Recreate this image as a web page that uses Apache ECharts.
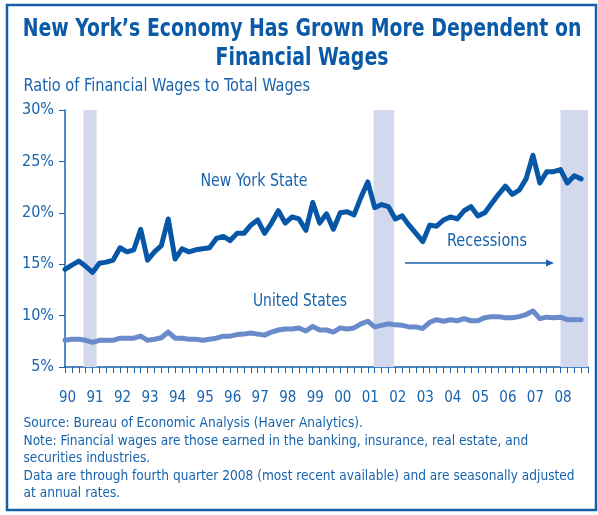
<!DOCTYPE html>
<html>
<head>
<meta charset="utf-8">
<script src="https://cdn.jsdelivr.net/npm/echarts@6/dist/echarts.min.js"></script>
<style>
html, body { margin: 0; padding: 0; background: #fff; }
#chart { width: 598px; height: 515px; }
</style>
</head>
<body>
<div id="chart"></div>
<script>
// quarterly, 1990Q1 .. 2008Q4
var firstYear = 1990;
var nyState = [
    14.5, 14.9, 15.3, 14.8, 14.2, 15.1, 15.2, 15.4,
    16.6, 16.2, 16.4, 18.4, 15.4, 16.2, 16.8, 19.4,
    15.5, 16.5, 16.2, 16.4, 16.5, 16.6, 17.5, 17.7,
    17.3, 18.0, 18.0, 18.8, 19.3, 18.0, 19.0, 20.2,
    19.0, 19.6, 19.4, 18.3, 21.0, 19.0, 19.9, 18.4,
    20.0, 20.1, 19.8, 21.5, 23.0, 20.5, 20.8, 20.6,
    19.4, 19.7, 18.8, 18.0, 17.2, 18.8, 18.7, 19.3,
    19.6, 19.4, 20.2, 20.6, 19.7, 20.0, 20.9, 21.8,
    22.6, 21.8, 22.2, 23.3, 25.6, 22.9, 24.0, 24.0,
    24.2, 22.9, 23.6, 23.3
];
var unitedStates = [
    7.6, 7.7, 7.7, 7.6, 7.4, 7.6, 7.6, 7.6,
    7.8, 7.8, 7.8, 8.0, 7.6, 7.7, 7.85, 8.4,
    7.8, 7.8, 7.7, 7.7, 7.6, 7.7, 7.8, 8.0,
    8.0, 8.15, 8.2, 8.3, 8.2, 8.1, 8.4, 8.6,
    8.7, 8.7, 8.8, 8.5, 8.95, 8.6, 8.6, 8.4,
    8.8, 8.7, 8.8, 9.2, 9.45, 8.9, 9.05, 9.2,
    9.1, 9.05, 8.9, 8.9, 8.75, 9.35, 9.6, 9.45,
    9.6, 9.5, 9.7, 9.5, 9.5, 9.8, 9.9, 9.9,
    9.8, 9.8, 9.9, 10.1, 10.45, 9.7, 9.85, 9.8,
    9.85, 9.6, 9.6, 9.6
];
var recessions = [[1990.67, 1991.15], [2001.21, 2001.96], [2008.0, 2009.0]];
var yAxisMin = 5, yAxisMax = 30, yStep = 5;
var xAxisMin = 1990, xAxisMax = 2009;

var titleLines = ['New York\u2019s Economy Has Grown More Dependent on', 'Financial Wages'];
var subTitle = 'Ratio of Financial Wages to Total Wages';
var footLines = [
    'Source: Bureau of Economic Analysis (Haver Analytics).',
    'Note: Financial wages are those earned in the banking, insurance, real estate, and',
    'securities industries.',
    'Data are through fourth quarter 2008 (most recent available) and are seasonally adjusted',
    'at annual rates.'
];

var narrow = "'Liberation Sans Narrow', 'DejaVu Sans Condensed', sans-serif";
var blue = '#1763ad';

function toPoints(arr) {
    return arr.map(function (v, i) { return [firstYear + i / 4, v]; });
}

// squeezed text, since there is no condensed Helvetica here
function label(txt, x, y, size, opts) {
    opts = opts || {};
    return {
        type: 'text', x: x, y: y, scaleX: opts.sx || 1, z: 50,
        style: {
            text: txt,
            font: (opts.bold ? 'bold ' : '') + size + 'px ' + narrow,
            fill: opts.color || blue,
            textAlign: opts.align || 'left',
            textVerticalAlign: 'middle'
        }
    };
}

var myChart = echarts.init(document.getElementById('chart'), null, { renderer: 'canvas' });

var graphics = [
    { type: 'rect', shape: { x: 7, y: 5, width: 589, height: 505 }, style: { fill: 'none', stroke: '#1560a8', lineWidth: 2.5 }, z: 100 },
    label(titleLines[0], 302, 29.5, 25, { bold: true, sx: 0.84, align: 'center', color: '#0b5aa8' }),
    label(titleLines[1], 302, 58.5, 25, { bold: true, sx: 0.84, align: 'center', color: '#0b5aa8' }),
    label(subTitle, 23.5, 87, 17, { sx: 0.95 }),
    label('New York State', 254, 181.5, 17, { sx: 0.93, align: 'center' }),
    label('United States', 300, 302, 17, { sx: 0.91, align: 'center' }),
    label('Recessions', 487, 241.5, 17, { sx: 0.95, align: 'center' }),
    { type: 'line', shape: { x1: 405, y1: 263, x2: 548, y2: 263 }, style: { stroke: blue, lineWidth: 1.5 } },
    { type: 'polygon', shape: { points: [[554, 263], [546, 259.5], [546, 266.5]] }, style: { fill: blue } }
];
for (var i = 0; i < footLines.length; i++) {
    graphics.push(label(footLines[i], 23.5, 423.5 + i * 17.5, 14, { sx: 0.97 }));
}

var option = {
    backgroundColor: '#fff',
    animation: false,
    grid: { left: 65, right: 10, top: 110, bottom: 148, containLabel: false },
    xAxis: {
        type: 'value',
        min: xAxisMin,
        max: xAxisMax,
        interval: 0.25,
        splitLine: { show: false },
        axisLine: { show: true, lineStyle: { color: blue, width: 1.5 } },
        axisTick: { show: true, length: 6, lineStyle: { color: blue, width: 1 } },
        axisLabel: {
            margin: 24,
            fontFamily: narrow,
            fontSize: 15,
            color: blue,
            padding: [0, 0, 0, 5],
            formatter: function (v) {
                if (Math.abs(v - Math.round(v)) > 1e-6 || v >= xAxisMax) return '';
                return String(Math.round(v)).slice(2);
            }
        }
    },
    yAxis: {
        type: 'value',
        min: yAxisMin,
        max: yAxisMax,
        interval: yStep,
        splitLine: { show: false },
        axisLine: { show: true, lineStyle: { color: blue, width: 1.5 } },
        axisTick: { show: true, length: 6, lineStyle: { color: blue, width: 1 } },
        axisLabel: { margin: 11, fontFamily: narrow, fontSize: 16, color: blue, formatter: '{value}%' }
    },
    series: [
        {
            name: 'Recessions',
            type: 'line',
            data: [],
            z: 1,
            silent: true,
            markArea: {
                silent: true,
                itemStyle: { color: '#d3d9ed', opacity: 1 },
                data: recessions.map(function (r) { return [{ xAxis: r[0] }, { xAxis: r[1] }]; })
            }
        },
        {
            name: 'United States',
            type: 'line',
            data: toPoints(unitedStates),
            z: 3,
            showSymbol: false,
            lineStyle: { color: '#6a8bcb', width: 5, join: 'round', cap: 'round' }
        },
        {
            name: 'New York State',
            type: 'line',
            data: toPoints(nyState),
            z: 4,
            showSymbol: false,
            lineStyle: { color: '#0757a6', width: 5, join: 'round', cap: 'round' }
        }
    ],
    graphic: graphics
};

myChart.setOption(option);
</script>
</body>
</html>
